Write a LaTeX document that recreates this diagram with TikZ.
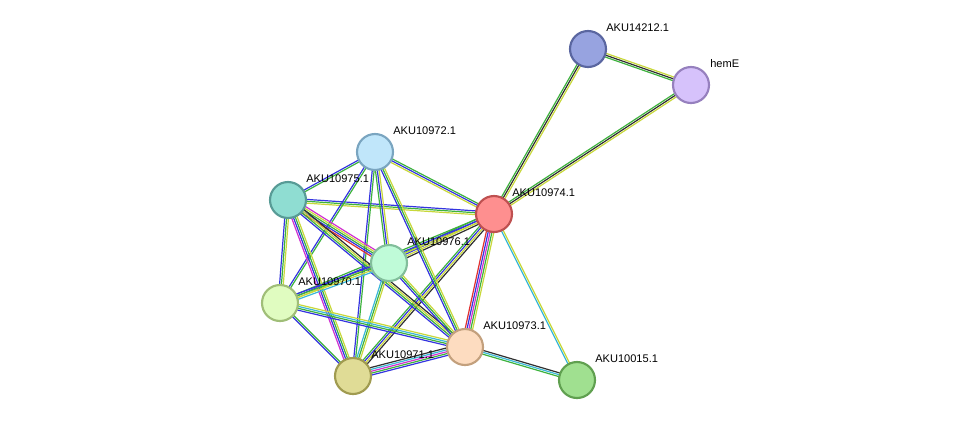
\documentclass[tikz,border=0pt]{standalone}
\usepackage{fontspec}
\setmainfont{Liberation Sans}
\usetikzlibrary{calc}
\definecolor{eg}{HTML}{3DB23D}\definecolor{eb}{HTML}{3434E0}\definecolor{ey}{HTML}{C8D83A}
\definecolor{ek}{HTML}{303030}\definecolor{er}{HTML}{E03030}\definecolor{em}{HTML}{D030D0}
\definecolor{ec}{HTML}{3AB8D8}
\newcommand{\E}[4]{\foreach \cc [count=\ii] in {#4}{%
  \pgfmathsetmacro{\dd}{(\ii-(#3+1)/2)*1.4}%
  \draw[color=e\cc,line width=0.9pt] ($(#1)!\dd pt!90:(#2)$) -- ($(#2)!\dd pt!-90:(#1)$);}}
\begin{document}
\begin{tikzpicture}[x=0.75pt,y=-0.75pt,
 nd/.style={circle,minimum size=27pt,inner sep=0,line width=1.6pt},
 lb/.style={anchor=west,font=\fontsize{8.3pt}{9pt}\selectfont,inner sep=0}]
\useasboundingbox (0,0) rectangle (976,426);
\coordinate (p1) at (588,49); \coordinate (p2) at (691,85);
\coordinate (p3) at (375,152); \coordinate (p4) at (288,200);
\coordinate (p5) at (494,214); \coordinate (p6) at (389,263);
\coordinate (p7) at (280,303); \coordinate (p8) at (465,347);
\coordinate (p9) at (353,376); \coordinate (p10) at (577,380);
\E{p1}{p2}{3}{g,k,y}
\E{p1}{p5}{3}{g,k,y}
\E{p2}{p5}{3}{g,k,y}
\E{p5}{p10}{2}{c,y}
\E{p8}{p10}{3}{g,c,k}
\E{p5}{p8}{5}{r,b,m,g,y}
\E{p5}{p3}{3}{g,b,y}
\E{p5}{p4}{3}{b,g,y}
\E{p5}{p6}{4}{g,b,y,k}
\E{p5}{p7}{3}{g,b,y}
\E{p5}{p9}{4}{g,b,y,k}
\E{p3}{p4}{2}{b,g}
\E{p3}{p6}{3}{g,b,y}
\E{p3}{p7}{2}{b,g}
\E{p3}{p9}{2}{b,g}
\E{p3}{p8}{3}{b,g,y}
\E{p4}{p6}{5}{r,b,g,y,m}
\E{p4}{p7}{3}{b,g,y}
\E{p4}{p9}{4}{m,b,g,y}
\E{p4}{p8}{4}{b,g,y,k}
\E{p6}{p7}{4}{b,g,y,c}
\E{p6}{p9}{3}{c,g,y}
\E{p6}{p8}{3}{b,g,y}
\E{p7}{p9}{2}{b,g}
\E{p7}{p8}{4}{b,g,c,y}
\E{p9}{p8}{5}{b,g,m,c,k}
\node[nd,fill={rgb,255:red,151;green,163;blue,224},draw={rgb,255:red,90;green,102;blue,160}] (n1) at (p1) {};
\node[nd,fill={rgb,255:red,214;green,194;blue,251},draw={rgb,255:red,150;green,128;blue,190}] (n2) at (p2) {};
\node[nd,fill={rgb,255:red,192;green,230;blue,250},draw={rgb,255:red,122;green,165;blue,192}] (n3) at (p3) {};
\node[nd,fill={rgb,255:red,143;green,221;blue,210},draw={rgb,255:red,88;green,155;blue,150}] (n4) at (p4) {};
\node[nd,fill={rgb,255:red,254;green,143;blue,143},draw={rgb,255:red,190;green,80;blue,80}] (n5) at (p5) {};
\node[nd,fill={rgb,255:red,191;green,251;blue,216},draw={rgb,255:red,130;green,190;blue,155}] (n6) at (p6) {};
\node[nd,fill={rgb,255:red,224;green,252;blue,192},draw={rgb,255:red,160;green,190;blue,120}] (n7) at (p7) {};
\node[nd,fill={rgb,255:red,253;green,220;blue,192},draw={rgb,255:red,195;green,160;blue,125}] (n8) at (p8) {};
\node[nd,fill={rgb,255:red,224;green,220;blue,150},draw={rgb,255:red,160;green,155;blue,80}] (n9) at (p9) {};
\node[nd,fill={rgb,255:red,160;green,224;blue,144},draw={rgb,255:red,96;green,160;blue,80}] (n10) at (p10) {};
\node[lb] (t1) at (606,28) {AKU14212.1};
\node[lb] (t2) at (710,64) {hemE};
\node[lb] (t3) at (393,131) {AKU10972.1};
\node[lb] (t4) at (306,179) {AKU10975.1};
\node[lb] (t5) at (512,193) {AKU10974.1};
\node[lb] (t6) at (407,242) {AKU10976.1};
\node[lb] (t7) at (298,282) {AKU10970.1};
\node[lb] (t8) at (483,326) {AKU10973.1};
\node[lb] (t9) at (371,355) {AKU10971.1};
\node[lb] (t10) at (595,359) {AKU10015.1};
\end{tikzpicture}
\end{document}
